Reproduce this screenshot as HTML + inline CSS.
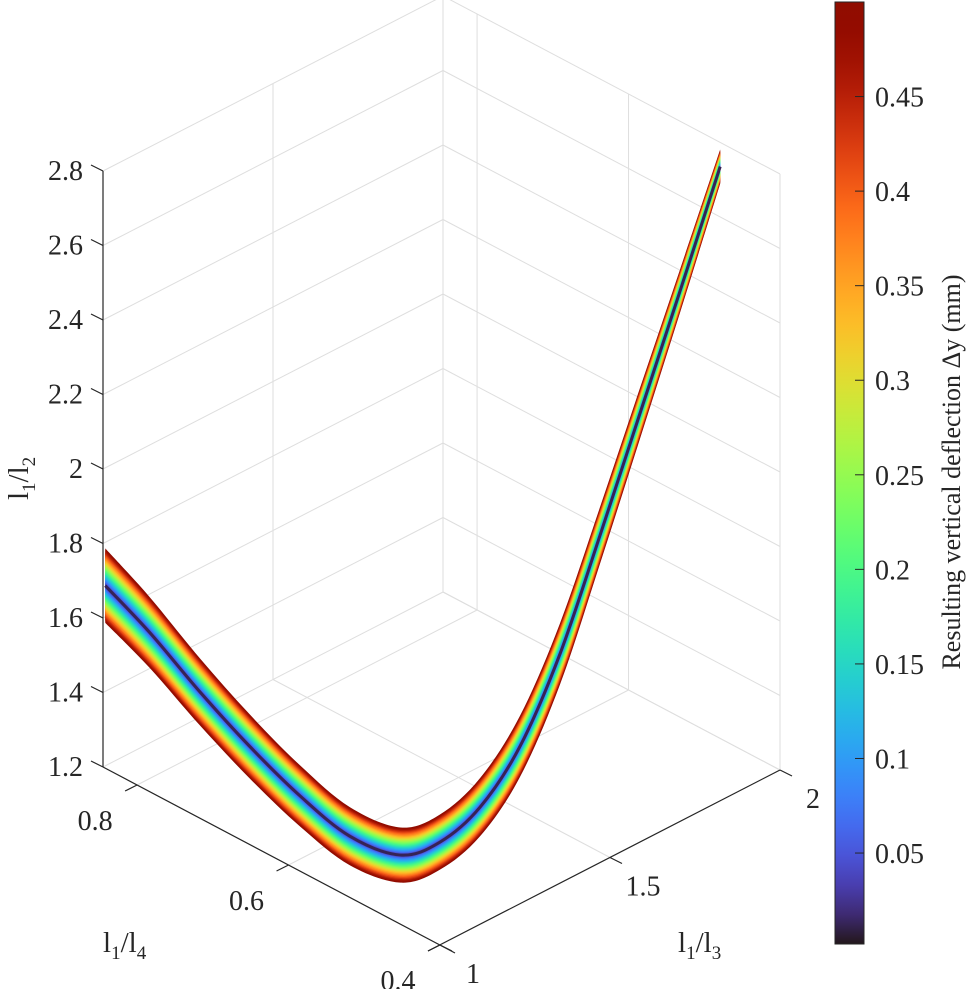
<!DOCTYPE html>
<html><head><meta charset="utf-8">
<style>
html,body{margin:0;padding:0;background:#fff;width:969px;height:989px;overflow:hidden}
svg{display:block}
text{font-family:"Liberation Serif",serif;fill:#262626}
</style></head>
<body>
<svg id="chart" width="969" height="989" viewBox="0 0 969 989">
<g id="grid"></g>
<g id="band"></g>
<g id="axes"></g>
<g id="cbar"></g>
</svg>
<script>
// ---- data (centerline of point cloud) ----
const ratio13 = [1.0,1.01,1.02,1.04,1.07,1.12,1.2,1.3,1.4,1.5,1.6,1.7,1.8,1.9,2.0];
const ratio14 = [0.842,0.788,0.726,0.669,0.616,0.573,0.542,0.535,0.527,0.519,0.511,0.503,0.495,0.487,0.479];
const ratio12 = [1.69,1.618,1.52,1.425,1.335,1.25,1.195,1.19,1.245,1.37,1.58,1.86,2.15,2.44,2.735];
const spread12 = [0.1,0.095,0.09,0.086,0.082,0.078,0.074,0.074,0.078,0.082,0.082,0.076,0.068,0.058,0.046];
const deflMax = 0.5;
const zTicks = [1.2,1.4,1.6,1.8,2,2.2,2.4,2.6,2.8];
const zTickLabels = ["1.2","1.4","1.6","1.8","2","2.2","2.4","2.6","2.8"];
const xTicks = [1,1.5,2];
const xTickLabels = ["1","1.5","2"];
const yTicks = [0.8,0.6,0.4];
const yTickLabels = ["0.8","0.6","0.4"];
const cTicks = [0.05,0.1,0.15,0.2,0.25,0.3,0.35,0.4,0.45];
const cTickLabels = ["0.05","0.1","0.15","0.2","0.25","0.3","0.35","0.4","0.45"];

// ---- projection ----
const X0=1,X1=2,Y0=0.845,Y1=0.4,Z0=1.2,Z1=2.8;
const O=[103,767],U=[340,-175],V=[337,178],W=[0,-596];
function P(a,b,c){const u=(a-X0)/(X1-X0),v=(Y0-b)/(Y0-Y1),w=(c-Z0)/(Z1-Z0);
 return [O[0]+U[0]*u+V[0]*v+W[0]*w, O[1]+U[1]*u+V[1]*v+W[1]*w];}
const NS="http://www.w3.org/2000/svg";
function mk(tag,attrs,parent){const e=document.createElementNS(NS,tag);for(const k in attrs)e.setAttribute(k,attrs[k]);parent.appendChild(e);return e;}
function turbo(x){x=Math.max(0,Math.min(1,x));
 const r=0.13572138+x*(4.61539260+x*(-42.66032258+x*(132.13108234+x*(-152.94239396+x*59.28637943))));
 const g=0.09140261+x*(2.19418839+x*(4.84296658+x*(-14.18503333+x*(4.27729857+x*2.82956604))));
 const b=0.10667330+x*(12.64194608+x*(-60.58204836+x*(110.36276771+x*(-89.90310912+x*27.34824973))));
 const c=v=>Math.round(Math.max(0,Math.min(1,v))*255);return `rgb(${c(r)},${c(g)},${c(b)})`;}

// ---- grid ----
const grid=document.getElementById('grid');
function gl(p,q,name){const l=mk('line',{x1:p[0],y1:p[1],x2:q[0],y2:q[1],stroke:'#dedede','stroke-width':1},grid);
 
 }
zTicks.forEach(z=>{gl(P(X0,Y0,z),P(X1,Y0,z),'grid-z-left');gl(P(X1,Y0,z),P(X1,Y1,z),'grid-z-right');});
xTicks.forEach(x=>{gl(P(x,Y0,Z0),P(x,Y0,Z1),'grid-x-wall');gl(P(x,Y0,Z0),P(x,Y1,Z0),'grid-x-floor');});
yTicks.forEach(y=>{gl(P(X1,y,Z0),P(X1,y,Z1),'grid-y-wall');gl(P(X0,y,Z0),P(X1,y,Z0),'grid-y-floor');});

// ---- band ----
const band=document.getElementById('band');
function smooth(pts){let d=`M${pts[0][0]},${pts[0][1]}`;
 for(let i=0;i<pts.length-1;i++){const p0=pts[Math.max(0,i-1)],p1=pts[i],p2=pts[i+1],p3=pts[Math.min(pts.length-1,i+2)];
  const c1=[p1[0]+(p2[0]-p0[0])/6,p1[1]+(p2[1]-p0[1])/6],c2=[p2[0]-(p3[0]-p1[0])/6,p2[1]-(p3[1]-p1[1])/6];
  d+=`C${c1[0]},${c1[1]} ${c2[0]},${c2[1]} ${p2[0]},${p2[1]}`;}return d;}
const N=24;
for(let k=N;k>=1;k--){
 const f=k/N;
 const top=ratio12.map((z,i)=>P(ratio13[i],ratio14[i],z+spread12[i]*f));
 const bot=ratio12.map((z,i)=>P(ratio13[i],ratio14[i],z-spread12[i]*f)).reverse();
 let d=smooth(top)+'L'+smooth(bot).slice(1)+'Z';
 const p=mk('path',{d:d,fill:turbo(f*deflMax/0.5*0.98+0.01)},band);
 
 
}
const cl=mk('path',{d:smooth(ratio12.map((z,i)=>P(ratio13[i],ratio14[i],z))),fill:'none',stroke:turbo(0.02),'stroke-width':3},band);



// ---- axes ----
const axes=document.getElementById('axes');
function al(p,q,name){const l=mk('line',{x1:p[0],y1:p[1],x2:q[0],y2:q[1],stroke:'#262626','stroke-width':1.2},axes);
 
 }
function tx(x,y,s,anchor,name,size){const t=mk('text',{x:x,y:y,'font-size':size||28,'text-anchor':anchor},axes);t.textContent=s;
 
 return t;}
al(P(X0,Y0,Z0),P(X0,Y0,Z1),'z-axis-line');
let a=P(X0,Y0,Z0),b=P(X0,Y1,Z0);al(a,[b[0]+15,b[1]+8],'y-axis-line');
a=P(X0,Y1,Z0);b=P(X1,Y1,Z0);al([a[0]-12,a[1]+6],b,'x-axis-line');
zTicks.forEach((z,i)=>{const p=P(X0,Y0,z);al(p,[p[0]-12,p[1]-6],'z-tick');tx(p[0]-20,p[1]+9,zTickLabels[i],'end','z-tick-label');});
yTicks.forEach((y,i)=>{const p=P(X0,y,Z0);al(p,[p[0]-12,p[1]+6],'y-tick');tx(p[0]-42,p[1]+45,yTickLabels[i],'middle','y-tick-label');});
xTicks.forEach((x,i)=>{const p=P(x,Y1,Z0);al(p,[p[0]+12,p[1]+6],'x-tick');tx(p[0]+33,p[1]+38,xTickLabels[i],'middle','x-tick-label');});
let t=mk('text',{x:103,y:952,'font-size':29},axes);t.innerHTML='l<tspan font-size="19" dy="7">1</tspan><tspan dy="-7">/l</tspan><tspan font-size="19" dy="7">4</tspan>';

t=mk('text',{x:678,y:952,'font-size':29},axes);t.innerHTML='l<tspan font-size="19" dy="7">1</tspan><tspan dy="-7">/l</tspan><tspan font-size="19" dy="7">3</tspan>';

t=mk('text',{x:0,y:0,'font-size':29,transform:'translate(28,500) rotate(-90)'},axes);t.innerHTML='l<tspan font-size="19" dy="7">1</tspan><tspan dy="-7">/l</tspan><tspan font-size="19" dy="7">2</tspan>';


// ---- colorbar ----
const cb=document.getElementById('cbar');
const CB={x:835,w:29,y0:947.6,y1:2};
const cy=v=>CB.y0+(CB.y1-CB.y0)*(v/deflMax);
const defs=mk('defs',{},cb);const lg=mk('linearGradient',{id:'tg',x1:0,y1:1,x2:0,y2:0},defs);
for(let i=0;i<=32;i++)mk('stop',{offset:i/32,'stop-color':turbo(i/32)},lg);
const r=mk('rect',{x:CB.x,y:2,width:CB.w,height:942,fill:'url(#tg)',stroke:'#262626','stroke-width':1},cb);


cTicks.forEach((c,i)=>{const y=cy(c);
 const l=mk('line',{x1:CB.x+CB.w-9,y1:y,x2:CB.x+CB.w,y2:y,stroke:'#262626','stroke-width':1},cb);
 
 
 const tt=mk('text',{x:875,y:y+10,'font-size':28},cb);tt.textContent=cTickLabels[i];
 
 });
const ct=mk('text',{x:0,y:0,'font-size':26,'text-anchor':'middle',transform:'translate(960,472) rotate(-90)'},cb);
ct.textContent='Resulting vertical deflection Δy (mm)';


</script>
</body></html>
